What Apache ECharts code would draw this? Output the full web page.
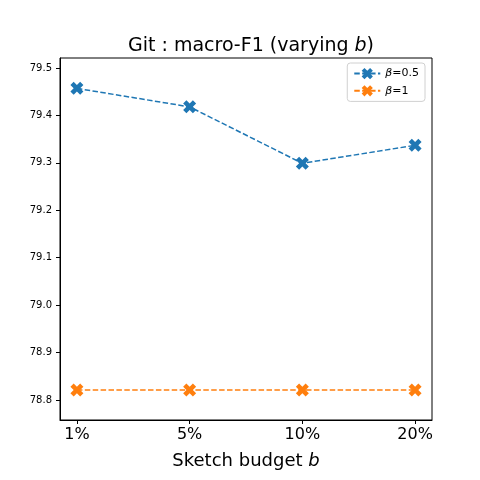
<!DOCTYPE html>
<html>
<head>
<meta charset="utf-8">
<script src="https://cdn.jsdelivr.net/npm/echarts@6/dist/echarts.min.js"></script>
<style>
  html, body { margin: 0; padding: 0; background: #fff; }
  #chart { width: 480px; height: 480px; }
</style>
</head>
<body>
<div id="chart"></div>
<script>
const budgets = ['1%', '5%', '10%', '20%'];
const beta05 = [79.457, 79.418, 79.299, 79.337];
const beta1 = [78.821, 78.821, 78.821, 78.821];
const yTicks = [78.8, 78.9, 79.0, 79.1, 79.2, 79.3, 79.4, 79.5];

const font = 'DejaVu Sans';
// filled "X" marker, like matplotlib's 'X'
const xMark = 'path://M0,5 L5,0 L10,5 L15,0 L20,5 L15,10 L20,15 L15,20 L10,15 L5,20 L0,15 L5,10 Z';

const toPoints = vals => vals.map((v, i) => [i, v]);

const chart = echarts.init(document.getElementById('chart'));
chart.setOption({
  animation: false,
  textStyle: { fontFamily: font },
  title: {
    text: 'Git : macro-F1 (varying {i|b})',
    left: 246,
    textAlign: 'center',
    top: 32,
    textStyle: {
      fontFamily: font, fontSize: 19, fontWeight: 'normal', color: '#000',
      rich: { i: { fontFamily: font, fontSize: 19, fontStyle: 'italic', color: '#000' } }
    }
  },
  legend: {
    orient: 'vertical',
    right: 55,
    top: 63,
    padding: [5, 6, 5, 6],
    itemGap: 6,
    itemWidth: 26,
    itemHeight: 14,
    borderColor: '#d0d0d0',
    borderWidth: 1,
    borderRadius: 3,
    textStyle: {
      fontFamily: font, fontSize: 11, color: '#000',
      rich: { i: { fontFamily: font, fontSize: 11, fontStyle: 'italic', color: '#000' } }
    },
    formatter: name => name.replace('β', '{i|β}')
  },
  grid: { left: 60, right: 48, top: 58, bottom: 60, show: true, borderColor: '#000', borderWidth: 1 },
  xAxis: {
    type: 'value',
    min: -0.15,
    max: 3.15,
    splitLine: { show: false },
    axisLine: { onZero: false, lineStyle: { color: '#000', width: 1 } },
    axisTick: { show: true, customValues: [0, 1, 2, 3], length: 4, lineStyle: { color: '#000' } },
    axisLabel: {
      customValues: [0, 1, 2, 3],
      formatter: v => budgets[Math.round(v)],
      fontFamily: font, fontSize: 16, color: '#000', margin: 7
    },
    name: 'Sketch budget {i|b}',
    nameLocation: 'middle',
    nameGap: 32,
    nameTextStyle: {
      fontFamily: font, fontSize: 18, color: '#000',
      rich: { i: { fontFamily: font, fontSize: 18, fontStyle: 'italic', color: '#000' } }
    }
  },
  yAxis: {
    type: 'value',
    min: 78.758,
    max: 79.521,
    splitLine: { show: false },
    axisLine: { show: true, onZero: false, lineStyle: { color: '#000', width: 1 } },
    axisTick: { show: true, customValues: yTicks, length: 4, lineStyle: { color: '#000' } },
    axisLabel: {
      customValues: yTicks,
      formatter: v => v.toFixed(1),
      fontFamily: font, fontSize: 10, color: '#000', margin: 8
    }
  },
  series: [
    {
      name: 'β=0.5',
      type: 'line',
      data: toPoints(beta05),
      symbol: xMark,
      symbolSize: 13,
      color: '#1f77b4',
      lineStyle: { width: 1.5, type: [5.5, 2.4], color: '#1f77b4' },
      itemStyle: { color: '#1f77b4' }
    },
    {
      name: 'β=1',
      type: 'line',
      data: toPoints(beta1),
      symbol: xMark,
      symbolSize: 13,
      color: '#ff7f0e',
      lineStyle: { width: 1.5, type: [5.5, 2.4], color: '#ff7f0e' },
      itemStyle: { color: '#ff7f0e' }
    }
  ]
});
</script>
</body>
</html>
